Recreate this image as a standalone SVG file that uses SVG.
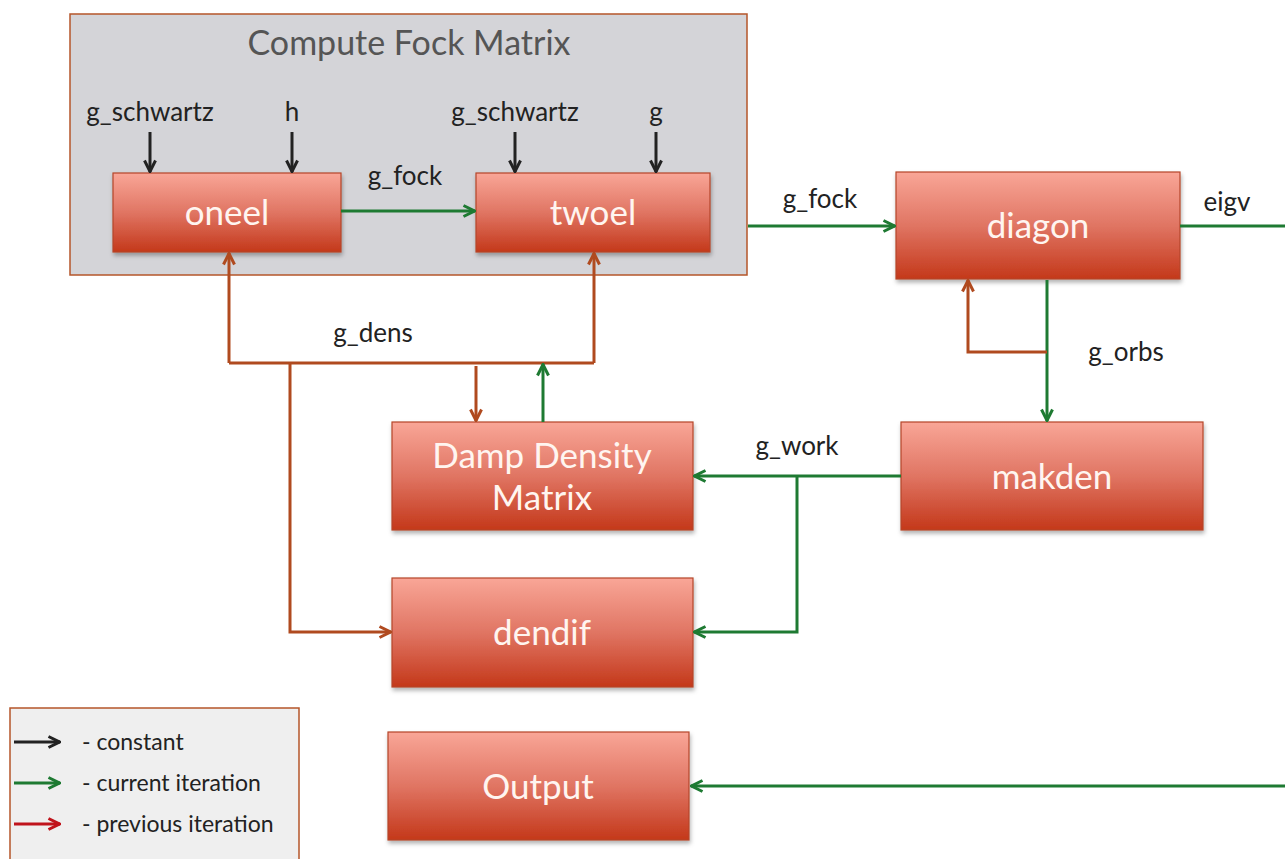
<svg xmlns="http://www.w3.org/2000/svg" width="1285" height="859" viewBox="0 0 1285 859">
<defs>
<linearGradient id="gr" x1="0" y1="0" x2="0" y2="1">
<stop offset="0" stop-color="#f9a697"/>
<stop offset="0.5" stop-color="#e07563"/>
<stop offset="1" stop-color="#c4381a"/>
</linearGradient>
<filter id="sh" x="-5%" y="-5%" width="115%" height="120%">
<feDropShadow dx="1" dy="3" stdDeviation="2" flood-color="#000" flood-opacity="0.3"/>
</filter>
<marker id="ag" viewBox="0 0 14 14" refX="13" refY="7" markerWidth="14" markerHeight="14" markerUnits="userSpaceOnUse" orient="auto">
<path d="M1.5,1.5 L12.5,7 L1.5,12.5" fill="none" stroke="#1e7a32" stroke-width="3"/>
</marker>
<marker id="ab" viewBox="0 0 14 14" refX="13" refY="7" markerWidth="14" markerHeight="14" markerUnits="userSpaceOnUse" orient="auto">
<path d="M1.5,1.5 L12.5,7 L1.5,12.5" fill="none" stroke="#b04a1f" stroke-width="3"/>
</marker>
<marker id="ak" viewBox="0 0 14 14" refX="13" refY="7" markerWidth="14" markerHeight="14" markerUnits="userSpaceOnUse" orient="auto">
<path d="M1.5,1.5 L12.5,7 L1.5,12.5" fill="none" stroke="#222" stroke-width="3"/>
</marker>
<marker id="ar" viewBox="0 0 14 14" refX="13" refY="7" markerWidth="14" markerHeight="14" markerUnits="userSpaceOnUse" orient="auto">
<path d="M1.5,1.5 L12.5,7 L1.5,12.5" fill="none" stroke="#c0141c" stroke-width="3"/>
</marker>
</defs>
<style>
.box{fill:url(#gr);stroke:#b5452a;stroke-width:1.2;filter:url(#sh)}
.nt{font-family:Lato,"Open Sans",sans-serif;font-size:35px;fill:#fff5f0;text-anchor:middle}
.lb{font-family:Lato,"Open Sans",sans-serif;font-size:26px;fill:#222;text-anchor:middle}
.lg{font-family:Lato,"Open Sans",sans-serif;font-size:23px;fill:#222}
.g{stroke:#1e7a32;stroke-width:3;fill:none}
.b{stroke:#b04a1f;stroke-width:3;fill:none}
.k{stroke:#222;stroke-width:3;fill:none}
.r{stroke:#c0141c;stroke-width:3;fill:none}
</style>
<rect width="1285" height="859" fill="#fff"/>
<g id="compute-fock">
<rect x="70" y="14" width="677" height="261" fill="#d4d4d8" stroke="#b5562a" stroke-width="1.5"/>
<text x="409" y="55" font-family="Lato,'Open Sans',sans-serif" font-size="34" fill="#555" text-anchor="middle">Compute Fock Matrix</text>
</g>
<g id="oneel"><rect class="box" x="113" y="173" width="228" height="79"/><text class="nt" x="227" y="225">oneel</text></g>
<g id="twoel"><rect class="box" x="476" y="173" width="234" height="79"/><text class="nt" x="593" y="225">twoel</text></g>
<g id="diagon"><rect class="box" x="896" y="172" width="284" height="107"/><text class="nt" x="1038" y="238">diagon</text></g>
<g id="makden"><rect class="box" x="901" y="422" width="302" height="108"/><text class="nt" x="1052" y="489">makden</text></g>
<g id="damp"><rect class="box" x="392" y="422" width="301" height="108"/><text class="nt" x="542" y="468">Damp Density</text><text class="nt" x="542" y="510">Matrix</text></g>
<g id="dendif"><rect class="box" x="392" y="578" width="301" height="109"/><text class="nt" x="542" y="645">dendif</text></g>
<g id="output"><rect class="box" x="388" y="732" width="301" height="108"/><text class="nt" x="538" y="799">Output</text></g>
<g id="connectors">
<line class="k" x1="150" y1="132" x2="150" y2="172" marker-end="url(#ak)"/>
<line class="k" x1="292" y1="132" x2="292" y2="172" marker-end="url(#ak)"/>
<line class="k" x1="515" y1="132" x2="515" y2="172" marker-end="url(#ak)"/>
<line class="k" x1="656" y1="132" x2="656" y2="172" marker-end="url(#ak)"/>
<line class="g" x1="341" y1="211" x2="475" y2="211" marker-end="url(#ag)"/>
<line class="g" x1="748" y1="226" x2="895" y2="226" marker-end="url(#ag)"/>
<line class="g" x1="1180" y1="226" x2="1285" y2="226"/>
<line class="g" x1="1285" y1="786" x2="691" y2="786" marker-end="url(#ag)"/>
<line class="g" x1="1047" y1="280" x2="1047" y2="421" marker-end="url(#ag)"/>
<polyline class="b" points="1047,352 968,352 968,280" marker-end="url(#ab)"/>
<line class="g" x1="901" y1="476" x2="694" y2="476" marker-end="url(#ag)"/>
<polyline class="g" points="797,476 797,632 694,632" marker-end="url(#ag)"/>
<polyline class="b" points="229,363 229,253" marker-end="url(#ab)"/>
<line class="b" x1="229" y1="363" x2="594" y2="363"/>
<line class="b" x1="594" y1="363" x2="594" y2="253" marker-end="url(#ab)"/>
<polyline class="b" points="290,363 290,632 391,632" marker-end="url(#ab)"/>
<line class="b" x1="476" y1="366" x2="476" y2="421" marker-end="url(#ab)"/>
<line class="g" x1="543" y1="422" x2="543" y2="364" marker-end="url(#ag)"/>
</g>
<g id="labels">
<text class="lb" x="150" y="121">g_schwartz</text>
<text class="lb" x="292" y="121">h</text>
<text class="lb" x="515" y="121">g_schwartz</text>
<text class="lb" x="656" y="121">g</text>
<text class="lb" x="405" y="185">g_fock</text>
<text class="lb" x="820" y="208">g_fock</text>
<text class="lb" x="1227" y="211">eigv</text>
<text class="lb" x="1126" y="361">g_orbs</text>
<text class="lb" x="373" y="342">g_dens</text>
<text class="lb" x="797" y="455">g_work</text>
</g>
<g id="legend">
<rect x="10" y="708" width="289" height="160" fill="#efefef" stroke="#b5562a" stroke-width="1.5"/>
<line class="k" x1="14" y1="742" x2="60" y2="742" marker-end="url(#ak)"/>
<line class="g" x1="14" y1="783" x2="60" y2="783" marker-end="url(#ag)"/>
<line class="r" x1="14" y1="824" x2="60" y2="824" marker-end="url(#ar)"/>
<text class="lg" x="82" y="750">- constant</text>
<text class="lg" x="82" y="791">- current iteration</text>
<text class="lg" x="82" y="832">- previous iteration</text>
</g>
</svg>
